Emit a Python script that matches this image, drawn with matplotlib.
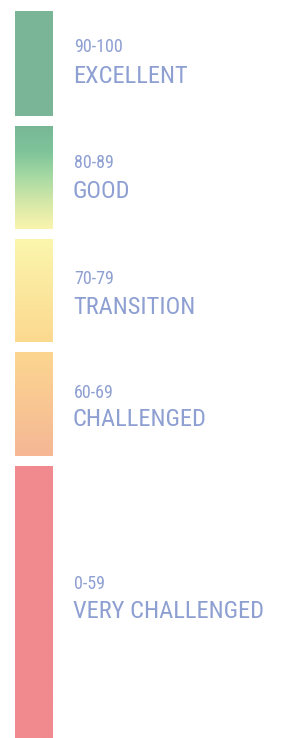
import matplotlib
matplotlib.use("Agg")
import matplotlib.pyplot as plt
import numpy as np
from matplotlib.colors import LinearSegmentedColormap
from matplotlib import font_manager
from matplotlib.font_manager import FontProperties

# ---- data ----
ranges = ["90-100", "80-89", "70-79", "60-69", "0-59"]
labels = ["EXCELLENT", "GOOD", "TRANSITION", "CHALLENGED", "VERY CHALLENGED"]
seg_lengths = [105, 103, 103, 104, 272]
seg_colors = [
    ["#7ab597", "#7ab597"],
    ["#78b796", "#7ec49a", "#a8daa3", "#d6e8a7", "#faf5ae"],
    ["#fbf6ad", "#fcd98f"],
    ["#fcd690", "#f5b795"],
    ["#f08a8f", "#f08a8f"],
]
text_color = "#8e9fd2"

# pick a narrow font if one is installed
fam, stretch = "DejaVu Sans", "normal"
names = {f.name for f in font_manager.fontManager.ttflist}
for cand in ["Liberation Sans Narrow", "Roboto Condensed", "Open Sans Condensed",
             "DejaVu Sans Condensed"]:
    if cand in names:
        fam = cand
        break
else:
    for f in font_manager.fontManager.ttflist:
        if f.name in ("DejaVu Sans", "Roboto", "Open Sans", "Noto Sans") and \
                "condensed" in f.fname.lower() and "bold" not in f.fname.lower() \
                and "oblique" not in f.fname.lower() and "italic" not in f.fname.lower():
            fam, stretch = f.name, "condensed"
            break

W, H = 281, 738
fig = plt.figure(figsize=(W / 100, H / 100), dpi=100)
ax = fig.add_axes([0, 0, 1, 1])
ax.set_xlim(0, W)
ax.set_ylim(H, 0)
ax.axis("off")

top = 11
gap = 10
bar_x = 33.7
bar_w = 37.5
centers = []
for i, (ln, cols) in enumerate(zip(seg_lengths, seg_colors)):
    bar = ax.bar(bar_x, ln, bottom=top, width=bar_w, color="none", linewidth=0)[0]
    cmap = LinearSegmentedColormap.from_list(f"g{i}", cols)
    grad = np.linspace(0, 1, 256).reshape(-1, 1)
    im = ax.imshow(grad, cmap=cmap, aspect="auto",
                   extent=(bar_x - bar_w / 2, bar_x + bar_w / 2, top + ln, top),
                   interpolation="bilinear", zorder=2)
    im.set_clip_path(bar)
    centers.append(top + ln / 2)
    top += ln + gap
ax.set_xlim(0, W)
ax.set_ylim(H, 0)

# label positions (pixel rows)
small_y = [centers[0] - 17, centers[1] - 14, centers[2] - 12, centers[3] - 11, 584]
big_y = [centers[0] + 13, centers[1] + 14, centers[2] + 17, centers[3] + 16, 612]

renderer = fig.canvas.get_renderer()

def fit_size(text, target_w, base=20):
    t = fig.text(0, 0, text, fontsize=base, family=fam, fontstretch=stretch)
    w = t.get_window_extent(renderer).width
    t.remove()
    return base * target_w / w

big_fs = min(fit_size("VERY CHALLENGED", 191), 19.5)
small_fs = min(fit_size("90-100", 49), 13)

for i in range(5):
    ax.text(74, small_y[i], ranges[i], fontsize=small_fs, color=text_color,
            family=fam, fontstretch=stretch, va="center", ha="left")
    ax.text(73, big_y[i], labels[i], fontsize=big_fs, color=text_color,
            family=fam, fontstretch=stretch, va="center", ha="left")

fig.savefig("out.png", dpi=100, facecolor="white")
